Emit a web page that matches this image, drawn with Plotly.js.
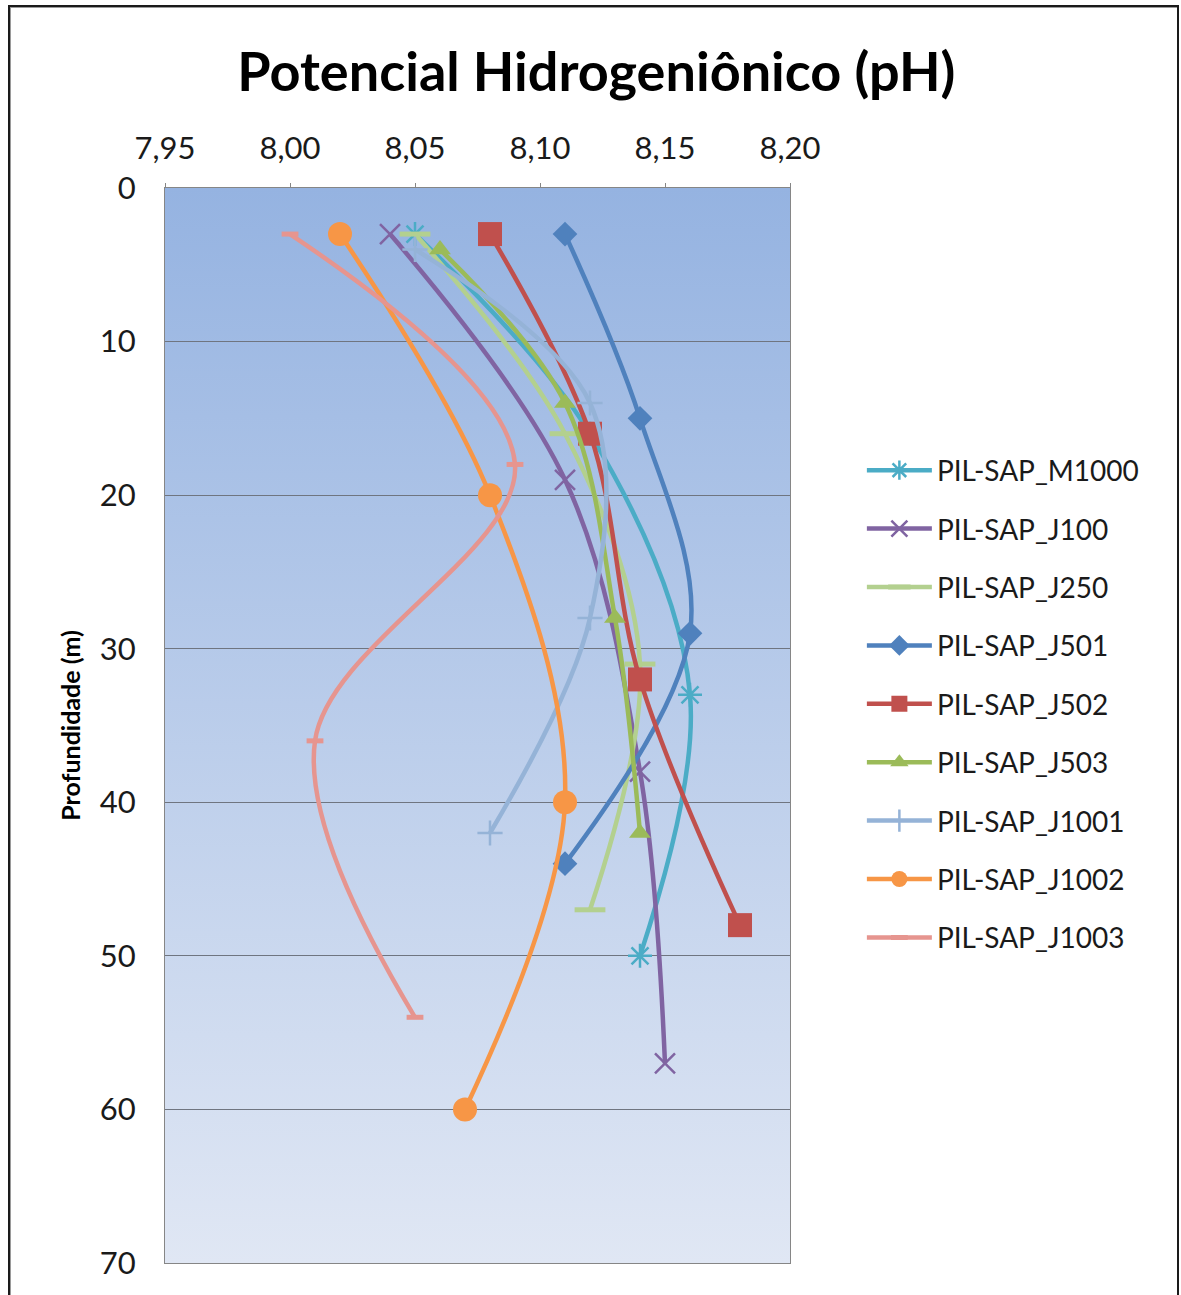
<!DOCTYPE html>
<html>
<head>
<meta charset="utf-8">
<script src="https://cdn.plot.ly/plotly-3.0.1.min.js"></script>
<style>
  html, body { margin: 0; padding: 0; background: #ffffff; }
  #wrap { position: relative; width: 1181px; height: 1295px; overflow: hidden; }
  #chart { position: absolute; left: 0; top: 0; width: 1181px; height: 1295px; }
  #frame { position: absolute; left: 8px; top: 5px; width: 1167px; height: 1310px;
           border: 2px solid #1a1a1a; box-shadow: inset 1px 1px 0 #9a9a9a; pointer-events: none; }
</style>
</head>
<body>
<div id="wrap">
  <div id="chart"></div>
  <div id="frame"></div>
</div>
<script>
// pH profiles against depth (m) for each monitoring point
const seriesNames = ['PIL-SAP_M1000','PIL-SAP_J100','PIL-SAP_J250','PIL-SAP_J501','PIL-SAP_J502',
                     'PIL-SAP_J503','PIL-SAP_J1001','PIL-SAP_J1002','PIL-SAP_J1003'];

const phM1000  = [8.05, 8.12, 8.16, 8.14];
const depM1000 = [3, 16, 33, 50];

const phJ100   = [8.04, 8.11, 8.14, 8.15];
const depJ100  = [3, 19, 38, 57];

const phJ250   = [8.05, 8.11, 8.14, 8.12];
const depJ250  = [3, 16, 31, 47];

const phJ501   = [8.11, 8.14, 8.16, 8.11];
const depJ501  = [3, 15, 29, 44];

const phJ502   = [8.08, 8.12, 8.14, 8.18];
const depJ502  = [3, 16, 32, 48];

const phJ503   = [8.06, 8.11, 8.13, 8.14];
const depJ503  = [4, 14, 28, 42];

const phJ1001  = [8.05, 8.12, 8.12, 8.08];
const depJ1001 = [4, 14, 28, 42];

const phJ1002  = [8.02, 8.08, 8.11, 8.07];
const depJ1002 = [3, 20, 40, 60];

const phJ1003  = [8.00, 8.09, 8.01, 8.05];
const depJ1003 = [3, 18, 36, 54];

const xTickVals  = [7.95, 8.00, 8.05, 8.10, 8.15, 8.20];
const xTickText  = ['7,95', '8,00', '8,05', '8,10', '8,15', '8,20'];
const yTickVals  = [0, 10, 20, 30, 40, 50, 60, 70];

const allX = [phM1000, phJ100, phJ250, phJ501, phJ502, phJ503, phJ1001, phJ1002, phJ1003];
const allY = [depM1000, depJ100, depJ250, depJ501, depJ502, depJ503, depJ1001, depJ1002, depJ1003];

const styles = [
  {color: '#4BACC6', symbol: 'asterisk-open', size: 20, lw: 2.5},
  {color: '#8064A2', symbol: 'x-thin-open',   size: 20, lw: 2.5},
  {color: '#B3D08F', symbol: 'line-ew-open',  size: 22, lw: 5},
  {color: '#4F81BD', symbol: 'diamond',       size: 19, lw: 0},
  {color: '#C0504D', symbol: 'square',        size: 24, lw: 0},
  {color: '#9BBB59', symbol: 'triangle-up',   size: 19, lw: 0},
  {color: '#95B3D7', symbol: 'cross-thin-open', size: 18, lw: 2.5},
  {color: '#F79646', symbol: 'circle',        size: 24, lw: 0},
  {color: '#E6958F', symbol: 'line-ew-open',  size: 12, lw: 5}
];

const traces = seriesNames.map((name, i) => ({
  type: 'scatter',
  mode: 'lines+markers',
  name: name,
  legendgroup: name,
  x: allX[i],
  y: allY[i],
  line: {color: styles[i].color, width: 4.5, shape: 'spline', smoothing: 1},
  marker: {
    color: styles[i].color,
    symbol: styles[i].symbol,
    size: styles[i].size,
    line: {color: styles[i].color, width: styles[i].lw}
  },
  cliponaxis: false
}));

// vertical blue gradient behind the plotting area
const gradSvg = '<svg xmlns="http://www.w3.org/2000/svg" width="100" height="100" preserveAspectRatio="none">' +
  '<defs><linearGradient id="g" x1="0" y1="0" x2="0" y2="1">' +
  '<stop offset="0" stop-color="#95B3E1"/><stop offset="1" stop-color="#E0E7F4"/>' +
  '</linearGradient></defs><rect width="100" height="100" fill="url(#g)"/></svg>';
const gradSrc = 'data:image/svg+xml;base64,' + btoa(gradSvg);

const layout = {
  width: 1181,
  height: 1295,
  margin: {l: 165, r: 391, t: 188, b: 32},
  paper_bgcolor: '#ffffff',
  plot_bgcolor: 'rgba(0,0,0,0)',
  font: {family: 'Lato, "Open Sans", sans-serif', color: '#1a1a1a'},
  title: {
    text: '<b>Potencial Hidrogeniônico (pH)</b>',
    font: {family: 'Lato, "Open Sans", sans-serif', size: 54, color: '#000000'},
    x: 0.505, xanchor: 'center',
    y: 0.944, yanchor: 'middle', yref: 'container'
  },
  xaxis: {
    side: 'top',
    range: [7.95, 8.20],
    tickvals: xTickVals,
    ticktext: xTickText,
    tickfont: {size: 31, color: '#1a1a1a'},
    ticks: 'outside', ticklen: 4, tickcolor: '#868686',
    ticklabelstandoff: 12,
    showgrid: false,
    zeroline: false,
    showline: true, linecolor: '#868686', linewidth: 1, mirror: true,
    fixedrange: true
  },
  yaxis: {
    range: [70, 0],
    tickvals: yTickVals,
    tickfont: {size: 31, color: '#1a1a1a'},
    ticks: '', ticklabelstandoff: 22,
    showgrid: true, gridcolor: '#6f7580', gridwidth: 1,
    zeroline: false,
    showline: true, linecolor: '#868686', linewidth: 1, mirror: true,
    title: {text: '<b>Profundidade (m)</b>', font: {size: 25, color: '#000000'}, standoff: 12},
    fixedrange: true
  },
  legend: {
    x: 1.115, xanchor: 'left',
    y: 0.52, yanchor: 'middle',
    font: {size: 28, color: '#1a1a1a'},
    traceorder: 'grouped',
    tracegroupgap: 19,
    bgcolor: 'rgba(0,0,0,0)',
    itemwidth: 65
  },
  images: [{
    source: gradSrc,
    xref: 'paper', yref: 'paper',
    x: 0, y: 1, sizex: 1, sizey: 1,
    xanchor: 'left', yanchor: 'top',
    sizing: 'stretch', layer: 'below'
  }],
  showlegend: true
};

Plotly.newPlot('chart', traces, layout, {displayModeBar: false, staticPlot: true});
</script>
</body>
</html>
